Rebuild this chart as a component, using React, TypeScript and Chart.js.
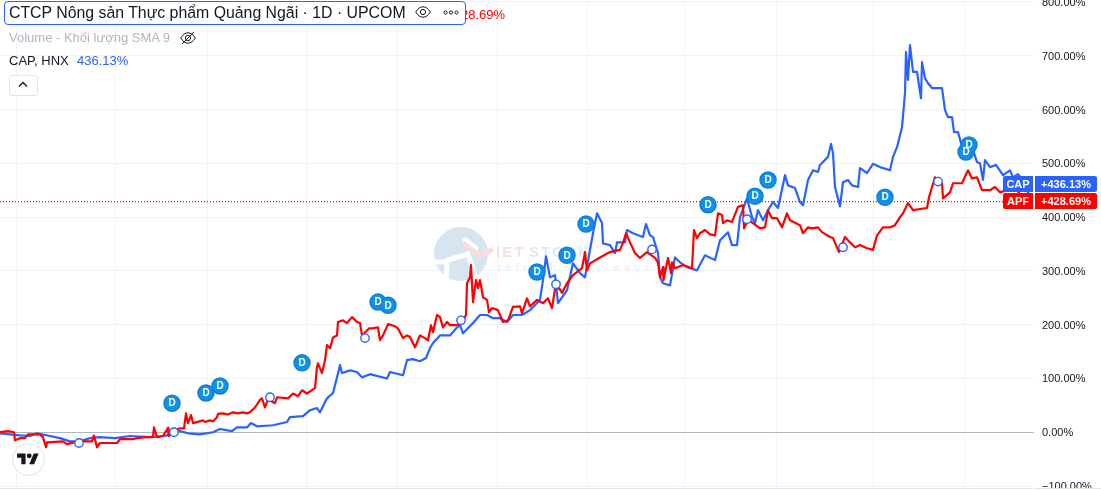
import React, { useEffect, useRef } from "react";
import { Chart, registerables } from "chart.js";

Chart.register(...registerables);

const capX = [0,10,20,30,37,50,60,70,80,90,100,115,130,150,165,172,180,188,200,213,220,232,237,247,251,257,273,287,290,303,310,317,320,327,333,337,340,342,350,357,362,370,387,390,403,407,413,420,426,430,433,440,450,456,460,463,473,480,487,493,500,507,513,522,530,540,543,546,550,555,558,567,573,580,585,593,597,602,603,610,615,617,625,627,633,643,646,650,653,658,660,663,670,675,680,687,697,705,715,720,728,732,737,740,747,752,755,758,763,768,773,778,785,788,795,800,803,808,813,818,820,828,831,833,835,840,843,848,852,858,860,867,873,880,890,893,897,902,905,906,908,910,913,917,921,922,925,928,932,942,945,948,952,954,958,963,973,977,980,983,985,990,996,1003,1010,1013,1018,1023,1030];
const capPct = [-2,-4,-6,-7,-2,-7,-11,-17,-17,-11,-9,-11,-7,-9,-7,-2,2,-2,-4,0,6,2,9,9,17,11,13,19,28,30,41,45,37,63,73,102,125,110,115,112,102,108,100,112,106,134,136,132,138,156,166,180,180,193,199,184,203,218,218,212,212,205,218,218,227,246,283,327,288,292,240,264,314,296,288,370,407,389,351,348,333,353,353,376,370,363,387,366,363,333,288,277,273,325,316,307,301,329,320,357,372,348,348,400,435,400,389,413,394,413,428,417,478,459,454,428,422,469,487,484,497,512,536,519,456,420,465,469,459,456,491,482,499,493,487,512,530,567,631,707,655,720,670,670,621,688,658,649,640,640,599,586,586,558,558,525,525,502,500,469,506,493,497,478,487,474,480,469,436.13];

const apfX = [0,8,14,15,20,25,28,40,43,46,47,63,67,78,92,94,97,100,117,120,133,137,147,153,154,157,163,168,168.5,178,180,184,186,188,191,193,203,205,210,213,217,218,223,228,233,238,243,247,250,255,260,262,265,268,275,277,288,293,298,302,307,315,317,318,322,325,327,330,333,337,338,343,347,352,357,360,362,369,372,378,380,383,388,395,398,403,407,410,415,420,425,428,431,433,437,440,443,447,450,455,461,466,467,470,471,473,476,478,480,483,487,489,492,498,503,508,513,520,522,527,530,537,543,548,552,555,559,562,567,573,582,585,587,590,600,610,620,623,626,630,635,640,647,655,658,660,663,663.5,668,671,672,675,683,692,694,697,700,705,710,715,718,722,723,727,732,738,743,744,748,753,760,765,768,772,777,782,787,790,800,803,808,812,818,822,830,833,839,845,850,855,860,867,873,877,883,890,895,900,903,908,913,927,929,932,935,942,943,950,953,962,968,972,977,982,990,995,1000,1013,1018,1024];
const apfPct = [0,2,0,-15,-11,-11,-4,-4,-9,-28,-19,-17,-22,-17,-17,-6,-28,-20,-20,-13,-13,-11,-9,-9,9,-9,-7,8,-7,6,7,7,35,17,32,17,22,19,22,20,28,34,35,33,37,35,37,35,37,46,60,63,46,61,54,65,63,72,67,78,72,82,121,128,110,134,162,156,176,180,205,208,203,214,205,203,180,193,193,195,171,180,201,197,193,175,180,177,158,180,175,171,199,186,218,214,195,205,199,199,201,218,277,288,311,242,283,268,283,251,246,223,231,227,205,208,233,234,221,249,234,246,240,249,231,266,268,259,277,292,305,335,301,314,325,335,339,352,370,353,333,324,335,324,316,288,307,283,324,296,316,305,311,305,376,361,370,376,368,366,407,404,389,394,391,419,422,379,394,389,379,381,413,398,398,381,407,394,385,370,381,379,381,372,363,361,335,363,353,344,348,342,339,366,381,381,385,400,407,426,413,417,437,456,474,463,435,446,463,463,487,472,474,450,450,456,446,454,448,428.69];

const splitX = [79,174,270,365,461,556,652,747,843,938];
const splitPct = [-20,0,65,175,208,275,340,396,344,466];
const dividendX = [172,206,220,302,378,388,537,567,586,708,755,768,885,966,969];
const dividendPct = [54,73,86,129,242,236,298,329,387,423,439,469,437,521,534];

const priceTicks = [-100,0,100,200,300,400,500,600,700,800];
const timeTicks = [16,115,207,306,397,497,587,684,776,873,964];

const capLabel = "CAP";
const apfLabel = "APF";
const capLast = 436.13;
const apfLast = 428.69;
const BLUE = "#2962ff";
const RED = "#ff0000";
const FONT = '"Liberation Sans", Arial, sans-serif';

const zip = (xs: number[], ys: number[]) => xs.map((x, i) => ({ x, y: ys[i] }));

const watermark = {
  id: "watermark",
  beforeDatasetsDraw(chart: any) {
    const c = chart.ctx;
    c.save();
    c.fillStyle = "#d7e5f1";
    c.beginPath();
    c.arc(461, 254, 27, 0, Math.PI * 2);
    c.fill();
    c.strokeStyle = "#ffffff";
    c.lineWidth = 5;
    c.lineCap = "round";
    c.lineJoin = "round";
    c.beginPath();
    c.moveTo(446, 282);
    c.lineTo(447, 262);
    c.lineTo(436, 262);
    c.moveTo(448, 260);
    c.lineTo(468, 254);
    c.lineTo(476, 278);
    c.moveTo(465, 240);
    c.lineTo(476, 248);
    c.stroke();
    c.strokeStyle = "#fbdcdc";
    c.lineWidth = 5;
    c.lineCap = "butt";
    c.beginPath();
    c.moveTo(463, 243);
    c.lineTo(480, 256);
    c.lineTo(493, 249);
    c.stroke();
    c.textBaseline = "middle";
    c.textAlign = "left";
    c.font = `bold 15px ${FONT}`;
    c.letterSpacing = "2px";
    c.fillStyle = "#fbdfdf";
    c.fillText("IET", 496, 253);
    c.fillStyle = "#dfe9f3";
    c.fillText("STOCK", 529, 253);
    c.font = `10px ${FONT}`;
    c.letterSpacing = "4.5px";
    c.fillStyle = "#e8ebf0";
    c.fillText("refresh your ways", 498, 268);
    c.restore();
  },
};

const overlays = {
  id: "overlays",
  afterDraw(chart: any) {
    const c = chart.ctx;
    const yScale = chart.scales.y;
    c.save();
    // "D" letters on dividend marks
    const meta = chart.getDatasetMeta(0);
    c.fillStyle = "#ffffff";
    c.font = `bold 10px ${FONT}`;
    c.textAlign = "center";
    c.textBaseline = "middle";
    meta.data.forEach((p: any) => c.fillText("D", p.x, p.y + 0.5));

    // bottom edge
    c.fillStyle = "#ffffff";
    c.fillRect(0, 488, 1101, 3);
    c.fillStyle = "#e0e3eb";
    c.fillRect(0, 488, 1033, 1);
    c.fillRect(1035, 488, 66, 1);

    // last-value labels
    const apfY = Math.round(yScale.getPixelForValue(apfLast)) - 1;
    const capY = apfY - 17;
    const tag = (y: number, name: string, text: string, color: string) => {
      c.fillStyle = color;
      c.beginPath();
      c.roundRect(1003, y - 8, 30, 16, [2, 0, 0, 2]);
      c.fill();
      c.beginPath();
      c.roundRect(1035, y - 8, 62, 16, [0, 2, 2, 0]);
      c.fill();
      c.fillStyle = "#ffffff";
      c.font = `bold 11px ${FONT}`;
      c.textAlign = "center";
      c.fillText(name, 1018, y + 0.5);
      c.fillText(text, 1066, y + 0.5);
    };
    tag(capY, capLabel, `+${capLast.toFixed(2)}%`, BLUE);
    tag(apfY, apfLabel, `+${apfLast.toFixed(2)}%`, RED);
    c.restore();
  },
};

const EyeIcon = () => (
  <svg width="16" height="12" viewBox="0 0 16 12" fill="none" stroke="#131722" strokeWidth="1">
    <path d="M0.7 6C3 2.3 5.4 0.8 8 0.8S13 2.3 15.3 6C13 9.7 10.6 11.2 8 11.2S3 9.7 0.7 6Z" />
    <circle cx="8" cy="6" r="2.6" />
  </svg>
);

const EyeOffIcon = () => (
  <svg width="16" height="14" viewBox="0 0 16 14" fill="none" stroke="#131722" strokeWidth="1">
    <path d="M0.7 7C3 3.3 5.4 1.8 8 1.8S13 3.3 15.3 7C13 10.7 10.6 12.2 8 12.2S3 10.7 0.7 7Z" />
    <circle cx="8" cy="7" r="2.6" />
    <path d="M2 13L14 1" />
  </svg>
);

const abs = (o: React.CSSProperties): React.CSSProperties => ({
  position: "absolute",
  whiteSpace: "nowrap",
  fontFamily: FONT,
  ...o,
});

export default function App() {
  const ref = useRef<HTMLCanvasElement>(null);

  useEffect(() => {
    const chart = new Chart(ref.current as HTMLCanvasElement, {
      type: "line",
      data: {
        datasets: [
          {
            label: "Dividends",
            data: zip(dividendX, dividendPct),
            showLine: false,
            pointRadius: 8,
            pointBackgroundColor: "#0a93ea",
            pointBorderColor: "#1a7bd6",
            pointBorderWidth: 1.5,
            order: 0,
          },
          {
            label: "Splits",
            data: zip(splitX, splitPct),
            showLine: false,
            pointRadius: 4.2,
            pointBackgroundColor: "#ffffff",
            pointBorderColor: BLUE,
            pointBorderWidth: 1.4,
            order: 1,
          },
          {
            label: "APF",
            data: zip(apfX, apfPct),
            borderColor: RED,
            borderWidth: 2.2,
            borderJoinStyle: "round",
            pointRadius: 0,
            tension: 0,
            order: 2,
          },
          {
            label: "CAP",
            data: zip(capX, capPct),
            borderColor: BLUE,
            borderWidth: 2.2,
            borderJoinStyle: "round",
            pointRadius: 0,
            tension: 0,
            order: 3,
          },
          {
            label: "APF last",
            data: zip([0, 1034], [apfLast, apfLast]),
            borderColor: RED,
            borderWidth: 1.3,
            borderDash: [1, 2],
            pointRadius: 0,
            order: 4,
          },
        ],
      },
      options: {
        responsive: false,
        animation: false,
        events: [],
        layout: { autoPadding: false, padding: { left: 0, right: 0, top: 0, bottom: 3 } },
        plugins: { legend: { display: false }, tooltip: { enabled: false }, title: { display: false } },
        scales: {
          x: {
            type: "linear",
            min: 0,
            max: 1034,
            afterBuildTicks: (s: any) => {
              s.ticks = timeTicks.map((value) => ({ value }));
            },
            afterFit: (s: any) => {
              s.height = 0;
              s.paddingLeft = 0;
              s.paddingRight = 0;
            },
            ticks: { display: false, autoSkip: false },
            grid: { color: "#f0f3fa", lineWidth: 1, drawTicks: false },
            border: { display: false },
          },
          y: {
            type: "linear",
            position: "right",
            min: -103.7,
            max: 803.7,
            afterBuildTicks: (s: any) => {
              s.ticks = priceTicks.map((value) => ({ value }));
            },
            afterFit: (s: any) => {
              s.width = 67;
              s.paddingTop = 0;
              s.paddingBottom = 0;
            },
            ticks: {
              autoSkip: false,
              padding: 8,
              labelOffset: 1,
              color: "#131722",
              font: { family: FONT, size: 11 },
              callback: (v: any) => (v < 0 ? `\u2212${Math.abs(v).toFixed(2)}%` : `${Number(v).toFixed(2)}%`),
            },
            grid: {
              color: (ctx: any) => (ctx.tick && ctx.tick.value === 0 ? "#b2b5be" : "#f0f3fa"),
              lineWidth: 1,
              drawTicks: false,
            },
            border: { display: false },
          },
        },
      },
      plugins: [watermark, overlays],
    } as any);
    return () => chart.destroy();
  }, []);

  return (
    <div style={{ position: "fixed", left: 0, top: 0, width: 1101, height: 491, overflow: "hidden", background: "#fff" }}>
      <canvas ref={ref} width={1101} height={491} style={{ position: "absolute", left: 0, top: 0, width: 1101, height: 491 }} />

      <div style={abs({ left: 465, top: 7, fontSize: 13, lineHeight: "15px", color: RED, width: 40, overflow: "hidden", direction: "rtl" })}>28.69%</div>

      <div style={abs({ left: 4, top: 1, width: 460, height: 22, border: `1px solid ${BLUE}`, borderRadius: 4, background: "#fff" })} />
      <div style={abs({ left: 9, top: 2, fontSize: 15.85, lineHeight: "22px", color: "#131722" })}>CTCP Nông sản Thực phẩm Quảng Ngãi · 1D · UPCOM</div>
      <div style={abs({ left: 415, top: 6, lineHeight: 0 })}><EyeIcon /></div>
      <svg style={abs({ left: 443, top: 10 })} width="16" height="5" viewBox="0 0 16 5" fill="none" stroke="#131722" strokeWidth="1">
        <circle cx="2.5" cy="2.5" r="1.6" />
        <circle cx="8" cy="2.5" r="1.6" />
        <circle cx="13.5" cy="2.5" r="1.6" />
      </svg>

      <div style={abs({ left: 9, top: 30, fontSize: 13, lineHeight: "16px", color: "#b2b5be", fontWeight: 500 })}>Volume - Khối lượng SMA 9</div>
      <div style={abs({ left: 180, top: 31, lineHeight: 0 })}><EyeOffIcon /></div>

      <div style={abs({ left: 9, top: 53, fontSize: 13, lineHeight: "16px", color: "#131722" })}>CAP, HNX</div>
      <div style={abs({ left: 77, top: 53, fontSize: 13, lineHeight: "16px", color: BLUE })}>436.13%</div>

      <div style={abs({ left: 9, top: 75, width: 27, height: 19, border: "1px solid #e0e3eb", borderRadius: 3, background: "#fff" })} />
      <svg style={abs({ left: 18, top: 81 })} width="10" height="7" viewBox="0 0 10 7" fill="none" stroke="#131722" strokeWidth="1.3">
        <path d="M1 5.5L5 1.5L9 5.5" />
      </svg>

      <div style={abs({ left: 12, top: 443, width: 31, height: 31, borderRadius: "50%", border: "1px solid #e0e3eb", background: "#fff" })} />
      <svg style={abs({ left: 17, top: 451 })} width="22" height="17" viewBox="0 0 36 28" fill="#131722">
        <path d="M14 22H7V11H0V4h14v18zM28 22h-8l7.5-18h8L28 22z" />
        <circle cx="20" cy="8" r="4" />
      </svg>
    </div>
  );
}
